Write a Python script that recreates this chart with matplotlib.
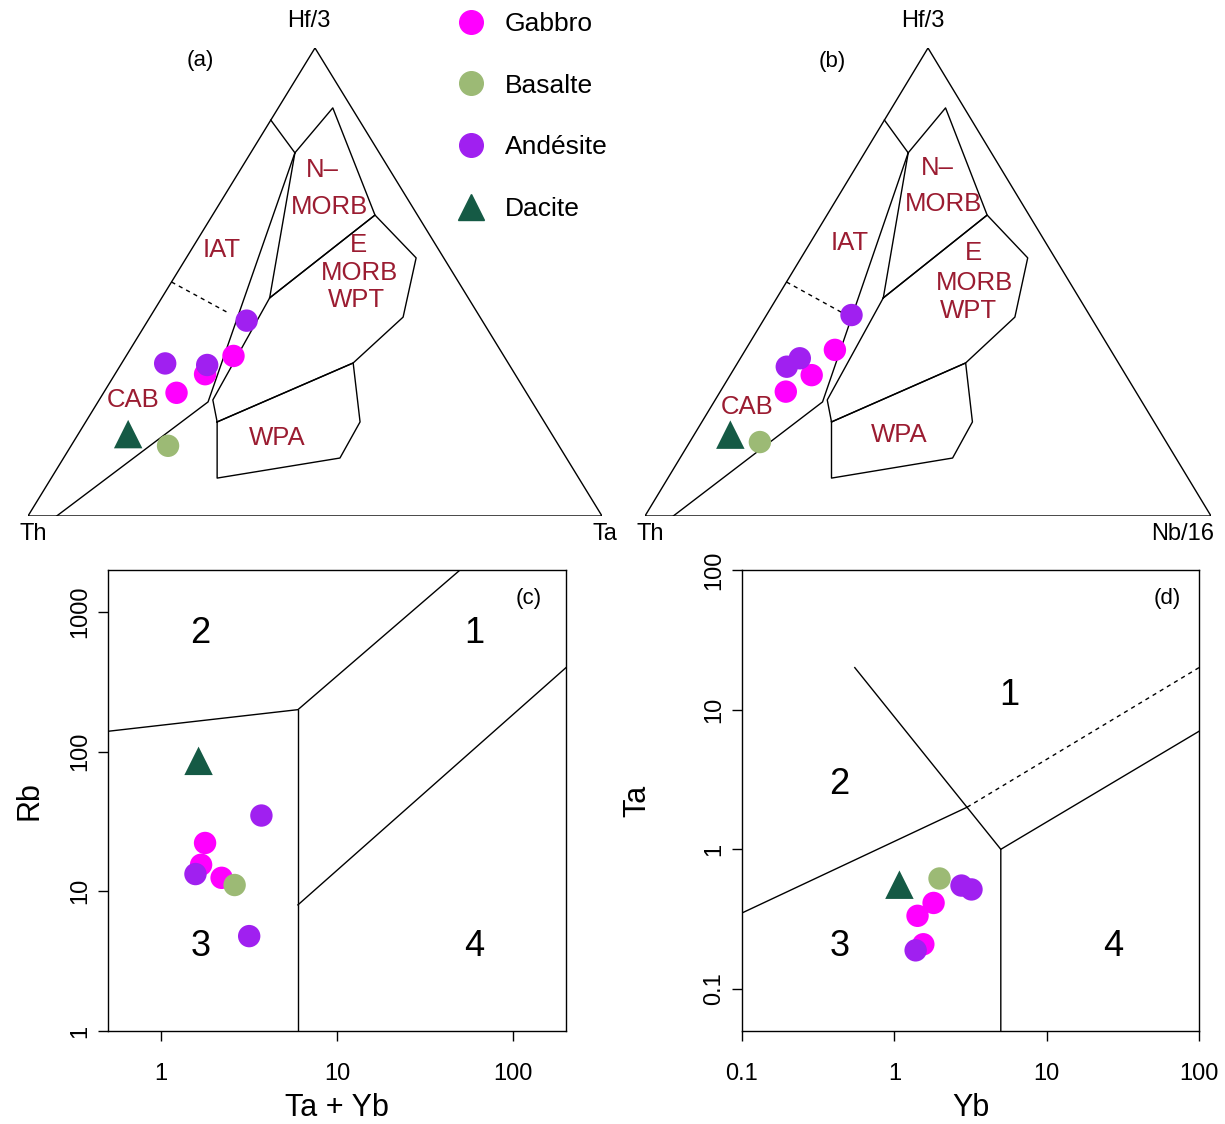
import matplotlib.pyplot as plt
import numpy as np
from matplotlib.lines import Line2D

plt.rcParams['font.family'] = ['Liberation Sans', 'DejaVu Sans']

# rock types (drawing order = legend order)
rock_names = ['Gabbro', 'Basalte', 'Andésite', 'Dacite']
rock_colors = ['#ff00ff', '#9cba75', '#a020f0', '#155a45']
rock_markers = ['o', 'o', 'o', '^']

# (a) Th - Hf/3 - Ta  (Th, Hf/3, Ta in %)
a_gabbro = [[47.1, 34.2, 18.7], [54.0, 30.3, 15.7], [60.9, 26.3, 12.7]]
a_basalte = [[68.1, 15.0, 16.9]]
a_andesite = [[41.0, 41.7, 17.2], [59.8, 32.6, 7.6], [52.7, 32.3, 15.1]]
a_dacite = [[73.8, 17.5, 8.7]]

# (b) Th - Hf/3 - Nb/16
b_gabbro = [[48.7, 35.5, 15.8], [55.5, 30.1, 14.4], [61.9, 26.6, 11.6]]
b_basalte = [[71.8, 15.8, 12.4]]
b_andesite = [[42.0, 42.9, 15.0], [59.0, 31.9, 9.1], [55.8, 33.7, 10.5]]
b_dacite = [[77.6, 17.7, 6.5]]

# (c) Rb vs Ta + Yb
c_x = [[1.78, 1.69, 2.21], [2.62], [3.72, 1.57, 3.17], [1.635]]
c_y = [[22.2, 15.5, 12.5], [11.1], [34.9, 13.3, 4.78], [86]]

# (d) Ta vs Yb
d_x = [[1.81, 1.42, 1.55], [1.98], [2.76, 3.21, 1.38], [1.08]]
d_y = [[0.413, 0.334, 0.209], [0.618], [0.55, 0.516, 0.189], [0.558]]

# Wood (1980) field boundaries, (Th, Hf/3, Ta|Nb/16) in %
arc_boundary = [[15.4, 84.6, 0], [14.7, 77.6, 7.7], [56.5, 24.4, 19.2], [95.0, 0, 5.0]]
nmorb_field = [[14.7, 77.6, 7.7], [3.3, 87.2, 9.5], [7.4, 64.3, 28.3], [34.6, 46.6, 18.8]]
emorb_field = [[34.6, 46.6, 18.8], [7.4, 64.3, 28.3], [4.8, 55.1, 40.0], [13.4, 42.5, 44.1],
               [27.0, 32.7, 40.3], [57.0, 20.1, 22.9], [55.4, 24.8, 19.8]]
wpa_field = [[57.0, 20.1, 22.9], [27.0, 32.7, 40.3], [32.1, 20.1, 47.8], [39.5, 12.4, 48.2],
             [63.0, 8.1, 28.9]]
iat_cab_line = [[50, 50, 0], [43.25, 43.25, 13.5]]

# Pearce et al. (1984) boundaries
c_upper = ([0.5, 6, 50], [140, 200, 2000])
c_lower = ([6, 200], [8, 400])
c_vert = ([6, 6], [1, 200])
d_main = ([0.55, 3, 5, 5], [20, 2, 1, 0.05])
d_left = ([0.1, 3], [0.35, 2])
d_right = ([5, 100], [1, 7])
d_dash = ([3, 100], [2, 20])

label_col = '#9b1c31'
W, H = 1225, 1124


def tern(pts):
    p = np.array(pts, dtype=float)
    p = p / p.sum(axis=1, keepdims=True)
    hf, ta = p[:, 1], p[:, 2]
    return ta + hf / 2, hf


def tern_line(ax, pts, closed=False, **kw):
    u, v = tern(pts)
    if closed:
        u, v = np.append(u, u[0]), np.append(v, v[0])
    ax.plot(u, v, color='black', lw=1.0, **kw)


fig = plt.figure(figsize=(W / 100, H / 100), dpi=100)


def ternary(rect, data, right_name, tag, labels):
    ax = fig.add_axes(rect)
    ax.set_xlim(0, 1)
    ax.set_ylim(0, 1)
    ax.axis('off')
    tern_line(ax, [[100, 0, 0], [0, 100, 0], [0, 0, 100]], closed=True)
    tern_line(ax, arc_boundary)
    tern_line(ax, nmorb_field, closed=True)
    tern_line(ax, emorb_field, closed=True)
    tern_line(ax, wpa_field, closed=True)
    tern_line(ax, iat_cab_line, ls=(0, (3, 3)))
    for pts, col, mk in zip(data, rock_colors, rock_markers):
        u, v = tern(pts)
        ax.scatter(u, v, s=420 if mk == '^' else 260, c=col, marker=mk,
                   edgecolor='none', zorder=3, clip_on=False)
    ax.text(0.49, 1.058, 'Hf/3', ha='center', va='center', fontsize=17)
    ax.text(0.01, -0.038, 'Th', ha='center', va='center', fontsize=17)
    ax.text(1.005, -0.038, right_name, ha='right' if len(right_name) > 2 else 'center',
            va='center', fontsize=17)
    ax.text(tag[0], tag[1], tag[2], ha='center', va='center', fontsize=16)
    for txt, x, y in labels:
        ax.text(x, y, txt, ha='center', va='center', fontsize=18.5, color=label_col)
    return ax


ternary([28 / W, (H - 516) / H, 574 / W, 468 / H],
        [a_gabbro, a_basalte, a_andesite, a_dacite], 'Ta', (0.30, 0.974, '(a)'),
        [('IAT', 0.338, 0.568), ('CAB', 0.183, 0.248), ('N\u2013', 0.512, 0.739),
         ('MORB', 0.526, 0.660), ('E', 0.575, 0.579), ('MORB', 0.578, 0.519),
         ('WPT', 0.573, 0.462), ('WPA', 0.434, 0.167)])
ternary([645 / W, (H - 516) / H, 566 / W, 468 / H],
        [b_gabbro, b_basalte, b_andesite, b_dacite], 'Nb/16', (0.33, 0.972, '(b)'),
        [('IAT', 0.362, 0.583), ('CAB', 0.180, 0.233), ('N\u2013', 0.516, 0.744),
         ('MORB', 0.527, 0.667), ('E', 0.580, 0.562), ('MORB', 0.583, 0.498),
         ('WPT', 0.571, 0.438), ('WPA', 0.449, 0.173)])


def logpanel(rect, xs, ys, xlim, ylim, xticks, yticks, xlab, ylab, ylabpad):
    ax = fig.add_axes(rect)
    ax.set_xscale('log')
    ax.set_yscale('log')
    ax.set_xlim(*xlim)
    ax.set_ylim(*ylim)
    ax.minorticks_off()
    ax.set_xticks(xticks)
    ax.set_xticklabels([str(t) for t in xticks])
    ax.set_yticks(yticks)
    ax.set_yticklabels([str(t) for t in yticks], rotation=90, va='center')
    ax.tick_params(axis='x', direction='out', length=7, width=1, labelsize=17, pad=16)
    ax.tick_params(axis='y', direction='out', length=7, width=1, labelsize=17, pad=5)
    for s in ax.spines.values():
        s.set_linewidth(1.0)
    ax.set_xlabel(xlab, fontsize=22, labelpad=6)
    ax.set_ylabel(ylab, fontsize=22, labelpad=ylabpad)
    for x, y, col, mk in zip(xs, ys, rock_colors, rock_markers):
        ax.scatter(x, y, s=420 if mk == '^' else 260, c=col, marker=mk,
                   edgecolor='none', zorder=3)
    return ax


axc = logpanel([108 / W, (H - 1031) / H, 458 / W, 461 / H], c_x, c_y, (0.5, 200), (1, 2000),
               [1, 10, 100], [1, 10, 100, 1000], 'Ta + Yb', 'Rb', 18)
for xx, yy in (c_upper, c_lower, c_vert):
    axc.plot(xx, yy, color='black', lw=1.0)
for txt, x, y in [('2', 1.67, 700), ('1', 60, 700), ('3', 1.67, 4.0), ('4', 60, 4.0)]:
    axc.text(x, y, txt, ha='center', va='center', fontsize=26)
axc.text(123, 1250, '(c)', ha='center', va='center', fontsize=16)

axd = logpanel([742 / W, (H - 1031) / H, 457 / W, 461 / H], d_x, d_y, (0.1, 100), (0.05, 100),
               [0.1, 1, 10, 100], [0.1, 1, 10, 100], 'Yb', 'Ta', 37)
for xx, yy in (d_main, d_left, d_right):
    axd.plot(xx, yy, color='black', lw=1.0)
axd.plot(*d_dash, color='black', lw=1.0, ls=(0, (3, 3)))
for txt, x, y in [('1', 5.7, 12.7), ('2', 0.437, 2.92), ('3', 0.437, 0.2), ('4', 27.4, 0.2)]:
    axd.text(x, y, txt, ha='center', va='center', fontsize=26)
axd.text(62, 62, '(d)', ha='center', va='center', fontsize=16)

handles = [Line2D([], [], ls='none', marker=mk, color=col, markersize=19 if mk == '^' else 17)
           for col, mk in zip(rock_colors, rock_markers)]
fig.legend(handles, rock_names, loc='upper left', bbox_to_anchor=(458 / W, 1 - 12 / H),
           frameon=False, fontsize=19, handlelength=1.0, handletextpad=0.78,
           labelspacing=1.43, borderpad=0, borderaxespad=0)

fig.savefig('out.png', dpi=100)
